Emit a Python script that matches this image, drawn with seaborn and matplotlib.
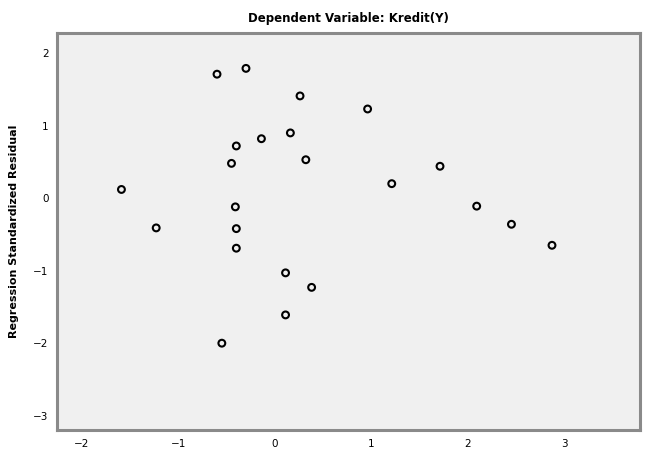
import numpy as np
import pandas as pd
import matplotlib
matplotlib.use("Agg")
import matplotlib.pyplot as plt
import seaborn as sns

# values
predicted = [-0.60, -0.30, 0.26, 0.16, -0.14, -0.40, 0.32, -0.45, -1.59, -0.41, -1.23, -0.40,
             -0.40, 0.11, 0.38, 0.11, -0.55, 0.96, 1.71, 1.21, 2.09, 2.45, 2.87]
residual = [1.71, 1.79, 1.41, 0.90, 0.82, 0.72, 0.53, 0.48, 0.12, -0.12, -0.41, -0.42,
            -0.69, -1.03, -1.23, -1.61, -2.00, 1.23, 0.44, 0.20, -0.11, -0.36, -0.65]
x_ticks = [-2, -1, 0, 1, 2, 3]
y_ticks = [2, 1, 0, -1, -2, -3]

title = "Dependent Variable: Kredit(Y)"
y_label = "Regression Standardized Residual"

df = pd.DataFrame({"pred": predicted, "resid": residual})

sns.set_style("white")
plt.rcParams['font.family'] = ['DejaVu Sans']

fig = plt.figure(figsize=(6.45, 4.5), dpi=100)
ax = fig.add_axes([0.088, 0.044, 0.904, 0.883])
ax.set_facecolor("#f0f0f0")

sns.scatterplot(data=df, x="pred", y="resid", ax=ax, marker="o", s=24,
                facecolor="none", edgecolor="black", linewidth=1.5)

ax.set_xlim(-2.26, 3.78)
ax.set_ylim(-3.2, 2.28)
ax.set_xticks(x_ticks)
ax.set_yticks(y_ticks)
ax.tick_params(axis="both", direction="out", length=4, width=1, labelsize=7.5, pad=2,
               color="#555555", labelcolor="black")
ax.set_xlabel("")
ax.set_ylabel(y_label, fontsize=8, fontweight="bold", labelpad=10, color="black")
ax.set_title(title, fontsize=8.5, fontweight="bold", pad=8, color="black")

for sp in ax.spines.values():
    sp.set_color("#8a8a8a")
    sp.set_linewidth(2.2)

fig.savefig("out.png", dpi=100)
